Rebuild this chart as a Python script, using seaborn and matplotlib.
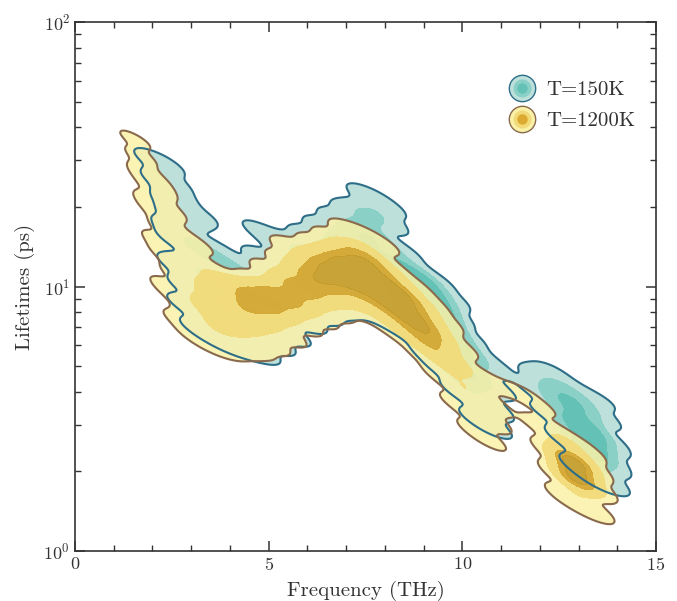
import numpy as np
import pandas as pd
import matplotlib
matplotlib.use("Agg")
import matplotlib.pyplot as plt
import seaborn as sns
from matplotlib.colors import ListedColormap
from matplotlib.lines import Line2D
from matplotlib.legend_handler import HandlerTuple
from matplotlib.ticker import LogLocator, MultipleLocator, NullFormatter

# ---------------- data: phonon modes (frequency THz, lifetime ps, weight) ----------------
# T = 150 K
freq_150 = [2.1,
            2.25, 2.25,
            2.45, 2.45, 2.45,
            2.65, 2.65, 2.65, 2.65,
            2.9, 2.9, 2.9, 2.9, 2.9,
            3.2, 3.2, 3.2, 3.2, 3.2, 3.2,
            3.6, 3.6, 3.6, 3.6, 3.6, 3.6,
            4.0, 4.0, 4.0, 4.0, 4.0,
            4.4, 4.4, 4.4, 4.4, 4.4,
            4.8, 4.8, 4.8, 4.8, 4.8, 4.8, 4.8,
            5.2, 5.2, 5.2, 5.2, 5.2, 5.2,
            5.6, 5.6, 5.6, 5.6, 5.6, 5.6,
            6.0, 6.0, 6.0, 6.0, 6.0, 6.0,
            6.4, 6.4, 6.4, 6.4, 6.4, 6.4,
            6.8, 6.8, 6.8, 6.8, 6.8, 6.8,
            7.2, 7.2, 7.2, 7.2, 7.2, 7.2,
            7.6, 7.6, 7.6, 7.6, 7.6, 7.6, 7.6,
            8.0, 8.0, 8.0, 8.0, 8.0, 8.0, 8.0,
            8.4, 8.4, 8.4, 8.4, 8.4,
            8.8, 8.8, 8.8, 8.8, 8.8,
            9.2, 9.2, 9.2, 9.2, 9.2,
            9.6, 9.6, 9.6, 9.6, 9.6,
            10.0, 10.0, 10.0, 10.0,
            10.4, 10.4, 10.4, 10.4,
            10.8, 10.8, 10.8, 10.8,
            12.0, 12.0,
            12.3, 12.3, 12.3, 12.3,
            12.7, 12.7, 12.7, 12.7,
            13.1, 13.1, 13.1, 13.1, 13.1,
            13.5, 13.5, 13.5, 13.5, 13.5,
            13.72, 13.72, 13.72]
life_150 = [30,
            25, 29,
            17, 21, 25,
            12, 15, 18.5, 22,
            8.5, 10, 12, 14.5, 18,
            7, 8.3, 10, 12, 14.5, 18.5,
            6.4, 7.5, 9, 10.7, 12.7, 14,
            6, 7, 8.3, 9.8, 11.7,
            5.8, 6.8, 8, 9.5, 11.8,
            5.6, 6.6, 7.8, 9.2, 11, 13, 16.3,
            6, 7.1, 8.4, 10, 12, 14.5,
            6.5, 7.7, 9, 10.7, 12.7, 14.5,
            7.3, 8.6, 10.2, 12, 14, 15.5,
            7.8, 9.2, 10.8, 12.8, 15, 16.8,
            8.2, 9.6, 11.3, 13.3, 15.6, 18,
            8.4, 9.8, 11.5, 13.6, 16, 19,
            8.3, 9.8, 11.5, 13.6, 16, 19, 22,
            7.6, 8.9, 10.5, 12.3, 14.5, 17.5, 20,
            7, 8.2, 9.7, 11.4, 13.5,
            6.5, 7.6, 9, 10.5, 11.5,
            5.5, 6.5, 7.7, 9, 10.5,
            4.8, 5.6, 6.6, 7.8, 9,
            4, 4.7, 5.5, 6.5,
            3.2, 3.8, 4.5, 5.5,
            2.9, 3.4, 4.1, 4.9,
            4.0, 4.6,
            3.3, 3.9, 4.4, 4.8,
            2.7, 3.2, 3.7, 4.2,
            2.1, 2.5, 3.0, 3.5, 3.9,
            1.9, 2.3, 2.7, 3.2, 3.7,
            1.8, 2.1, 2.5]
w_150 = [1,
         1, 1,
         1, 1, 1,
         1, 1, 1, 1,
         1, 1, 1, 1, 1,
         1, 1, 1, 1, 1, 1,
         1, 1, 1, 1, 1, 1,
         1, 1, 1, 1, 1,
         1, 1, 1, 1, 1,
         1, 1, 1, 1, 1, 1, 1,
         1, 1, 1, 1, 1, 1,
         1, 1, 1, 1, 1, 1,
         1, 1, 1, 1, 1, 1,
         1, 1, 1, 1, 1, 1,
         1, 1, 1, 1, 1.2, 1.2,
         1, 1, 1, 1.2, 1.5, 1.5,
         1, 1, 1, 1.2, 1.5, 1.8, 1.5,
         1, 1, 1, 1.2, 1.5, 1.5, 1.2,
         1, 1.2, 1.5, 1.5, 1.2,
         1.2, 1.5, 2, 2, 1.5,
         1.2, 1.8, 2.5, 2.5, 1.5,
         1.2, 1.8, 2.5, 2.5, 1.5,
         1.2, 2, 2, 1.5,
         1, 1.5, 1.5, 1.2,
         1, 1.2, 1.2, 1,
         1, 1,
         1, 1.2, 1, 0.8,
         1.2, 1.5, 1.2, 0.8,
         1.5, 2.2, 2.2, 1.5, 0.8,
         1.5, 2.5, 2.5, 1.5, 0.8,
         1.2, 1.5, 1.2]

# T = 1200 K
freq_1200 = [1.55,
             1.7,
             1.85,
             2.0, 2.0,
             2.15, 2.15, 2.15,
             2.4, 2.4, 2.4, 2.4,
             2.7, 2.7, 2.7, 2.7, 2.7,
             3.1, 3.1, 3.1, 3.1, 3.1, 3.1,
             3.5, 3.5, 3.5, 3.5, 3.5,
             3.9, 3.9, 3.9, 3.9, 3.9,
             4.3, 4.3, 4.3, 4.3, 4.3,
             4.7, 4.7, 4.7, 4.7, 4.7,
             5.1, 5.1, 5.1, 5.1, 5.1,
             5.5, 5.5, 5.5, 5.5, 5.5, 5.5,
             5.9, 5.9, 5.9, 5.9, 5.9,
             6.3, 6.3, 6.3, 6.3, 6.3,
             6.7, 6.7, 6.7, 6.7, 6.7,
             7.1, 7.1, 7.1, 7.1, 7.1,
             7.5, 7.5, 7.5, 7.5, 7.5,
             7.9, 7.9, 7.9, 7.9, 7.9,
             8.3, 8.3, 8.3, 8.3,
             8.7, 8.7, 8.7, 8.7,
             9.1, 9.1, 9.1, 9.1,
             9.5, 9.5, 9.5, 9.5,
             9.9, 9.9, 9.9, 9.9,
             10.3, 10.3, 10.3, 10.3,
             10.7, 10.7, 10.7, 10.7,
             11.2,
             11.6,
             12.0, 12.0,
             12.4, 12.4,
             12.75, 12.75, 12.75, 12.75,
             13.1, 13.1, 13.1, 13.1,
             13.35, 13.35]
life_1200 = [36,
             31,
             27,
             21, 25,
             15, 19, 23,
             10, 13, 16.5, 19.5,
             7.5, 9, 11, 13, 15.5,
             6.5, 7.7, 9, 10.5, 12.5, 14.5,
             6, 7, 8.3, 9.7, 11.5,
             5.8, 6.8, 8, 9.4, 10.5,
             5.8, 6.8, 8, 9.4, 10.2,
             5.8, 6.8, 8, 9.4, 10.5,
             6, 7, 8.2, 9.6, 11.3,
             6.5, 7.6, 8.9, 10.4, 12.2, 14,
             7.2, 8.4, 9.8, 11.5, 13.5,
             7.6, 8.9, 10.4, 12.2, 14.2,
             8, 9.4, 11, 12.9, 15,
             8.3, 9.8, 11.5, 13.5, 16,
             8.2, 9.6, 11.2, 13.2, 15.5,
             7.6, 8.9, 10.5, 12.3, 14.5,
             6.8, 8, 9.4, 11,
             6.3, 7.4, 8.7, 10,
             5.4, 6.3, 7.4, 8.7,
             4.6, 5.4, 6.3, 7.4,
             3.6, 4.2, 5, 5.9,
             2.9, 3.4, 4, 4.7,
             2.6, 3.1, 3.6, 4.3,
             4.1,
             4.0,
             3.0, 3.5,
             2.4, 2.8,
             1.6, 1.9, 2.2, 2.6,
             1.5, 1.8, 2.1, 2.4,
             1.42, 1.75]
w_1200 = [1,
          1,
          1,
          1, 1,
          1, 1, 1,
          1, 1, 1, 1,
          1, 1.1, 1.1, 1.1, 1,
          1, 1.2, 1.3, 1.3, 1.2, 1,
          1, 1.5, 1.8, 1.5, 1,
          1, 1.6, 2, 1.6, 1,
          1, 1.6, 2.2, 1.8, 1,
          1, 1.6, 2.5, 2.5, 1,
          1, 1.6, 2.8, 2.8, 1.5,
          1, 1.6, 2.8, 2.8, 1.5, 1,
          1, 2, 2.8, 2.8, 1.5,
          1, 2, 2.8, 2.8, 1.5,
          1, 2, 2.8, 2.8, 1.5,
          1, 2, 2.8, 2.8, 1.5,
          1, 2, 2.8, 2.8, 1.5,
          1, 2, 2.8, 2.2, 1,
          1.5, 2.8, 2.8, 1.5,
          1.5, 2.8, 2.8, 1.5,
          1.5, 2.8, 2.8, 1.5,
          1.3, 2.5, 2.5, 1.3,
          1, 1.6, 1.6, 1,
          1, 1.6, 1.6, 1,
          1, 1.5, 1.5, 1,
          0.6,
          0.6,
          1, 1,
          1.5, 1.5,
          1.8, 4.2, 4.2, 1.8,
          1.8, 4.2, 4.2, 1.8,
          1.2, 1.2]

labels = ["T=150K", "T=1200K"]

# ---------------- style ----------------
teal_fills = ["#bde0da", "#8bd0c7", "#63c1b6"]
teal_edge = "#2e6e88"
yel_fills = ["#faf1a8", "#f2da78", "#d2a42f", "#c49b2b"]
yel_edge = "#8a6a4c"

sns.set_style("ticks")
plt.rcParams.update({
    "font.family": "serif",
    "font.serif": ["cmr10"],
    "mathtext.fontset": "cm",
    "axes.formatter.use_mathtext": True,
    "axes.unicode_minus": False,
})

fig, ax = plt.subplots(figsize=(6.77, 6.01), dpi=100)
fig.subplots_adjust(left=75 / 677, right=656 / 677, top=1 - 22 / 601, bottom=1 - 551 / 601)

df150 = pd.DataFrame({"f": freq_150, "t": life_150, "w": w_150})
df1200 = pd.DataFrame({"f": freq_1200, "t": life_1200, "w": w_1200})

bw_out, bw_in = 0.27, 0.42
kde_kw = dict(x="f", y="t", weights="w", log_scale=(False, True), gridsize=300, ax=ax)

# T = 150 K : outer envelope, inner levels, outline
sns.kdeplot(data=df150, fill=True, levels=[0.05, 1.0], cmap=ListedColormap(teal_fills[:1]),
            bw_adjust=bw_out, **kde_kw)
sns.kdeplot(data=df150, fill=True, levels=[0.52, 0.8, 1.0], cmap=ListedColormap(teal_fills[1:]),
            bw_adjust=bw_in, **kde_kw)
sns.kdeplot(data=df150, fill=False, levels=[0.05], color=teal_edge, linewidth=0.8,
            bw_adjust=bw_out, **kde_kw)

# T = 1200 K
sns.kdeplot(data=df1200, fill=True, levels=[0.05, 1.0], cmap=ListedColormap(yel_fills[:1]),
            bw_adjust=bw_out, alpha=0.86, **kde_kw)
sns.kdeplot(data=df1200, fill=True, levels=[0.42, 0.7, 0.86, 1.0], cmap=ListedColormap(yel_fills[1:]),
            bw_adjust=bw_in, alpha=0.9, **kde_kw)
sns.kdeplot(data=df1200, fill=False, levels=[0.05], color=yel_edge, linewidth=0.8,
            bw_adjust=bw_out, **kde_kw)

ax.set_xlim(0, 15)
ax.set_ylim(1, 100)
ax.set_yscale("log")
ax.xaxis.set_major_locator(MultipleLocator(5))
ax.xaxis.set_minor_locator(MultipleLocator(1))
ax.yaxis.set_major_locator(LogLocator(base=10, numticks=10))
ax.yaxis.set_minor_locator(LogLocator(base=10, subs=np.arange(2, 10), numticks=10))
ax.yaxis.set_minor_formatter(NullFormatter())

ax.tick_params(which="both", direction="in", top=True, right=True, colors="#333333",
               labelcolor="#333333", labelsize=13)
ax.tick_params(which="major", length=7, width=1.1)
ax.tick_params(which="minor", length=4, width=1.0)
for s in ax.spines.values():
    s.set_linewidth(1.2)
    s.set_color("#333333")

ax.set_xlabel("Frequency (THz)", fontsize=15, color="#333333", labelpad=6)
ax.set_ylabel("Lifetimes (ps)", fontsize=15, color="#333333", labelpad=6)

h150 = (Line2D([], [], ls="none", marker="o", ms=19, mfc=teal_fills[0], mec=teal_edge, mew=1.0),
        Line2D([], [], ls="none", marker="o", ms=13, mfc=teal_fills[1], mec="none"),
        Line2D([], [], ls="none", marker="o", ms=7.5, mfc=teal_fills[2], mec="none"))
h1200 = (Line2D([], [], ls="none", marker="o", ms=19, mfc=yel_fills[0], mec=yel_edge, mew=1.0),
         Line2D([], [], ls="none", marker="o", ms=13, mfc=yel_fills[1], mec="none"),
         Line2D([], [], ls="none", marker="o", ms=7.5, mfc="#dcaa30", mec="none"))
ax.legend([h150, h1200], labels, handler_map={tuple: HandlerTuple(ndivide=1)},
          loc="upper left", bbox_to_anchor=(0.712, 0.925), frameon=False, fontsize=15,
          labelspacing=0.6, handletextpad=0.45, handlelength=1.4, labelcolor="#333333")

fig.savefig("out.png", dpi=100)
